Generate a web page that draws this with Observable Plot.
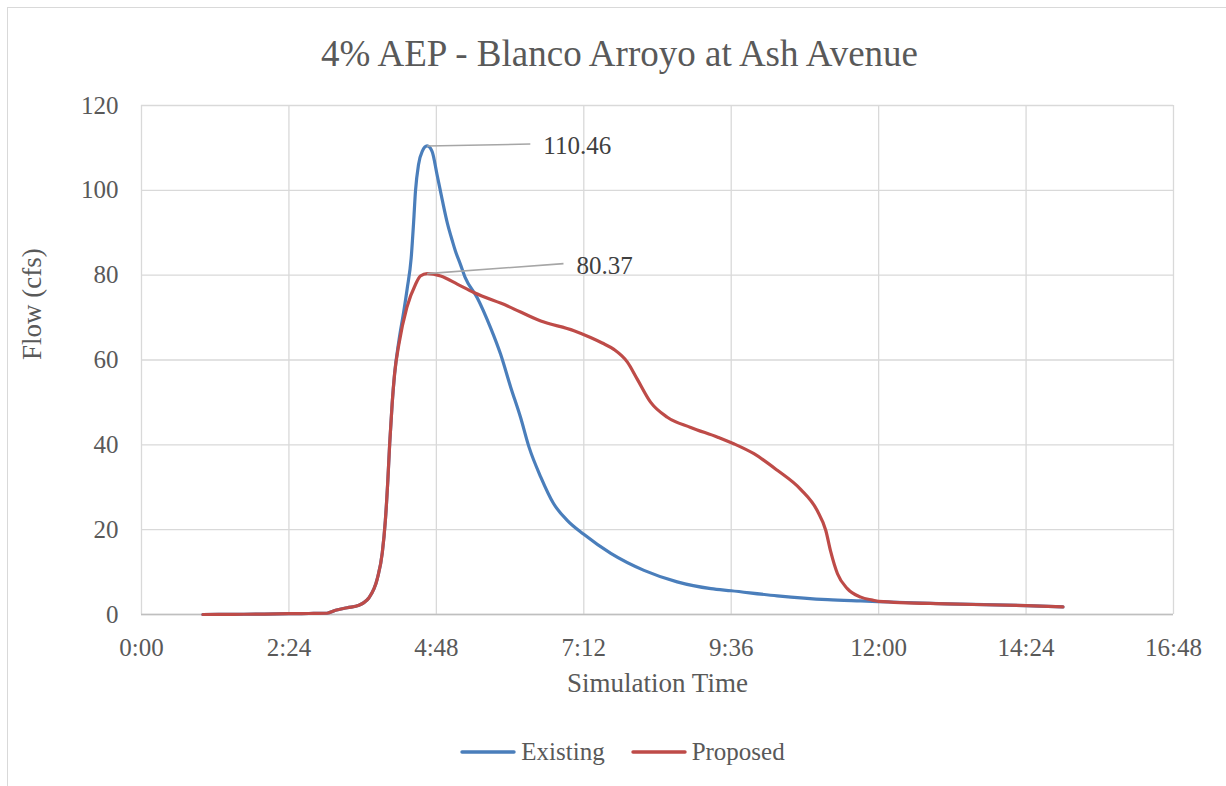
<!DOCTYPE html>
<html>
<head>
<meta charset="utf-8">
<script src="https://cdn.jsdelivr.net/npm/d3@7"></script>
<script src="https://cdn.jsdelivr.net/npm/@observablehq/plot@0.6"></script>
<style>
  body { margin: 0; background: #fff; font-family: "Liberation Serif", serif; color: #595959; }
  #page { position: relative; width: 1226px; height: 786px; overflow: hidden; }
  #frame { position: absolute; left: 7px; top: 7px; width: 1300px; height: 900px; border: 1.3px solid #d9d9d9; box-sizing: border-box; }
  #title { position: absolute; left: 0; top: 35px; width: 1239px; text-align: center; font-size: 37px; line-height: 37px; white-space: nowrap; }
  #chart { position: absolute; left: 0; top: 80px; }
  #legend { position: absolute; left: 0; top: 738px; width: 1245px; display: flex; justify-content: center; align-items: center; font-size: 25px; line-height: 28px; }
  .item { display: flex; align-items: center; margin: 0 13px; }
  .item svg { margin-right: 5px; }
</style>
</head>
<body>
<div id="page">
  <div id="frame"></div>
  <div id="title"></div>
  <div id="chart"></div>
  <div id="legend"></div>
</div>
<script>
// Hydrograph: flow (cfs) against simulation time (hours)
const chartTitle = "4% AEP - Blanco Arroyo at Ash Avenue";
const seriesNames = ["Existing", "Proposed"];
const seriesColors = ["#4a7ebb", "#be4b48"];

const existingTime = [1.0, 1.5, 2.0, 2.4, 2.8, 3.02, 3.16, 3.35, 3.54, 3.62, 3.70, 3.84, 3.92, 3.97, 4.01, 4.04, 4.08, 4.12, 4.19, 4.27, 4.325, 4.39, 4.43, 4.46, 4.51, 4.57, 4.65, 4.73, 4.81, 4.895, 4.98, 5.06, 5.11, 5.19, 5.27, 5.465, 5.68, 5.845, 6.01, 6.17, 6.31, 6.50, 6.71, 6.93, 7.2, 7.64, 8.18, 8.72, 9.27, 9.6, 10.35, 11.17, 11.71, 12.0, 13.12, 14.4, 15.0];
const existingFlow = [0.0, 0.05, 0.1, 0.2, 0.25, 0.3, 1.0, 1.6, 2.2, 2.8, 3.9, 8.5, 14.6, 22.2, 31.6, 40.2, 49.6, 56.7, 64.5, 71.5, 76.8, 84.0, 92.5, 99.8, 106.1, 109.2, 110.46, 109.2, 103.8, 97.8, 92.2, 88.1, 85.7, 82.6, 79.4, 74.7, 67.7, 61.4, 53.6, 46.5, 39.4, 32.4, 26.1, 22.2, 18.9, 14.4, 10.4, 7.7, 6.1, 5.6, 4.4, 3.5, 3.2, 3.05, 2.5, 2.1, 1.8];

const proposedTime = [1.0, 1.5, 2.0, 2.4, 2.8, 3.02, 3.16, 3.35, 3.54, 3.62, 3.70, 3.84, 3.92, 3.97, 4.01, 4.04, 4.08, 4.12, 4.19, 4.32, 4.46, 4.54, 4.65, 4.87, 5.14, 5.41, 5.95, 6.50, 7.04, 7.31, 7.50, 7.69, 7.91, 8.07, 8.29, 8.56, 8.94, 9.38, 9.65, 9.97, 10.35, 10.73, 11.0, 11.14, 11.22, 11.33, 11.49, 11.71, 11.9, 12.0, 13.12, 14.4, 15.0];
const proposedFlow = [0.0, 0.05, 0.1, 0.2, 0.25, 0.3, 1.0, 1.6, 2.2, 2.8, 3.9, 8.5, 14.6, 22.2, 31.6, 40.2, 49.6, 56.7, 63.7, 72.4, 77.8, 79.8, 80.37, 79.8, 77.9, 75.9, 72.8, 69.2, 66.9, 65.3, 64.0, 62.5, 59.5, 55.5, 50.0, 46.5, 44.1, 41.8, 40.2, 37.9, 34.0, 29.5, 24.5, 19.8, 14.8, 9.6, 6.1, 4.1, 3.4, 3.1, 2.5, 2.1, 1.8];

const xTicks = [0, 2.4, 4.8, 7.2, 9.6, 12, 14.4, 16.8];
const xTickLabels = ["0:00", "2:24", "4:48", "7:12", "9:36", "12:00", "14:24", "16:48"];
const yTicks = [0, 20, 40, 60, 80, 100, 120];

// Offsets (hours, cfs) from each peak to the end of its callout leader
const calloutOffsetT = [1.68, 2.22];
const calloutOffsetV = [0.45, 2.35];

const existing = existingTime.map((t, i) => ({t, v: existingFlow[i]}));
const proposed = proposedTime.map((t, i) => ({t, v: proposedFlow[i]}));

const callouts = [existing, proposed].map((s, i) => {
  const peak = d3.greatest(s, d => d.v);
  return {
    t: peak.t, v: peak.v,
    t2: peak.t + calloutOffsetT[i], v2: peak.v + calloutOffsetV[i],
    label: peak.v.toFixed(2)
  };
});

const font = '"Liberation Serif", serif';
const grid = {stroke: "#d9d9d9", strokeOpacity: 1, strokeWidth: 1.3};

const chart = Plot.plot({
  width: 1226,
  height: 640,
  marginLeft: 141,
  marginRight: 53,
  marginTop: 25,
  marginBottom: 106,
  style: {fontFamily: font, fontSize: "25px", color: "#595959", background: "transparent", overflow: "visible"},
  x: {domain: [0, 16.8]},
  y: {domain: [0, 120]},
  marks: [
    Plot.gridX(xTicks, grid),
    Plot.gridY(yTicks, grid),
    Plot.ruleY([0], {stroke: "#bfbfbf", strokeWidth: 1.6}),
    Plot.axisX(xTicks, {
      tickSize: 0, tickPadding: 24, label: null, fontSize: 25,
      tickFormat: d => xTickLabels[xTicks.indexOf(d)]
    }),
    Plot.axisY(yTicks, {tickSize: 0, tickPadding: 23, label: null, fontSize: 25}),
    Plot.text(["Simulation Time"], {text: d => d, frameAnchor: "bottom", dy: 77, fontSize: 27}),
    Plot.text(["Flow (cfs)"], {text: d => d, frameAnchor: "left", dx: -109, rotate: -90, fontSize: 27}),
    Plot.line(existing, {x: "t", y: "v", stroke: seriesColors[0], strokeWidth: 3.2, curve: "monotone-x"}),
    Plot.line(proposed, {x: "t", y: "v", stroke: seriesColors[1], strokeWidth: 3.2, curve: "monotone-x"}),
    Plot.link(callouts, {x1: "t", y1: "v", x2: "t2", y2: "v2", stroke: "#a6a6a6", strokeWidth: 1.6}),
    Plot.text(callouts, {x: "t2", y: "v2", text: "label", textAnchor: "start", dx: 13, dy: 2, fontSize: 25, fill: "#404040"})
  ]
});
document.getElementById("chart").append(chart);

document.getElementById("title").textContent = chartTitle;

const legend = d3.select("#legend");
seriesNames.forEach((name, i) => {
  const item = legend.append("div").attr("class", "item");
  const sw = item.append("svg").attr("width", 56).attr("height", 8);
  sw.append("line").attr("x1", 2).attr("x2", 54).attr("y1", 4).attr("y2", 4)
    .attr("stroke", seriesColors[i]).attr("stroke-width", 3.4).attr("stroke-linecap", "round");
  item.append("span").text(name);
});
</script>
</body>
</html>
